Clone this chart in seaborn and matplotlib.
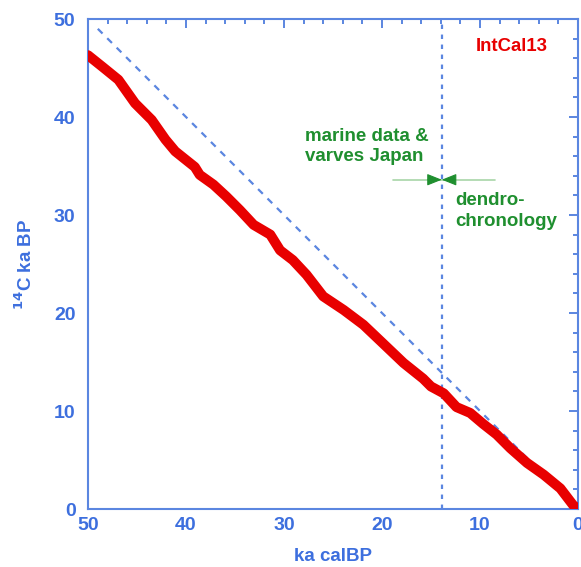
import matplotlib
matplotlib.use("Agg")
import matplotlib.pyplot as plt
import seaborn as sns
import pandas as pd
from matplotlib.ticker import MultipleLocator

# IntCal13 calibration curve (cal ka BP vs 14C ka BP)
cal_ka = [50.0, 48.5, 46.9, 45.2, 43.5, 42.1, 41.1, 39.1, 38.6, 37.2, 35.9, 34.5,
          33.1, 31.4, 30.4, 29.1, 27.7, 26.0, 23.9, 21.9, 19.9, 17.8, 15.8, 15.0,
          13.7, 12.4, 11.0, 9.7, 8.3, 6.9, 5.2, 3.5, 1.8, 0.5, 0.0]
c14_ka = [46.3, 45.1, 43.8, 41.4, 39.7, 37.7, 36.5, 34.9, 34.1, 33.1, 31.9, 30.5,
          29.0, 28.0, 26.4, 25.4, 23.9, 21.7, 20.3, 18.8, 16.9, 14.9, 13.3, 12.5,
          11.8, 10.4, 9.8, 8.7, 7.6, 6.2, 4.7, 3.5, 2.1, 0.4, 0.0]

# 1:1 reference line
ref_x = [49.0, 0.0]
ref_y = [49.0, 0.0]

# limit between dendrochronology and marine/varve records
dendro_limit = 13.9

BLUE = "#3d6fde"
SPINE = "#5b86e0"
RED = "#e80000"
GREEN = "#1f8f2f"
LIGHT_GREEN = "#a8d6a8"

sns.set_style("white")
plt.rcParams["font.family"] = ["Liberation Sans", "DejaVu Sans"]
plt.rcParams["font.weight"] = "bold"

fig = plt.figure(figsize=(5.81, 5.67), dpi=100)
ax = fig.add_axes([88 / 581, 1 - 509 / 567, 490 / 581, 490 / 567])

curve = pd.DataFrame({"cal": cal_ka, "c14": c14_ka})
ref = pd.DataFrame({"cal": ref_x, "c14": ref_y})

sns.lineplot(data=ref, x="cal", y="c14", ax=ax, color=SPINE, lw=1.6,
             linestyle=(0, (3, 3)), sort=False, zorder=2)
ax.axvline(dendro_limit, color=SPINE, lw=1.6, linestyle=(0, (2, 2.5)), zorder=2)
sns.lineplot(data=curve, x="cal", y="c14", ax=ax, color=RED, lw=7.2,
             sort=False, solid_capstyle="round", solid_joinstyle="round", zorder=3)

ax.set_xlim(50, 0)
ax.set_ylim(0, 50)

for s in ax.spines.values():
    s.set_color(SPINE)
    s.set_linewidth(1.5)
    s.set_visible(True)

ax.xaxis.set_major_locator(MultipleLocator(10))
ax.xaxis.set_minor_locator(MultipleLocator(2))
ax.yaxis.set_major_locator(MultipleLocator(10))
ax.yaxis.set_minor_locator(MultipleLocator(2))
ax.tick_params(which="both", direction="in", color=SPINE, width=1.4,
               top=True, right=True, labelcolor=BLUE, labelsize=14)
ax.tick_params(which="major", length=6.5)
ax.tick_params(which="minor", length=3.5)
ax.tick_params(axis="x", pad=6)
ax.tick_params(axis="y", pad=9)
for lab in ax.get_xticklabels() + ax.get_yticklabels():
    lab.set_fontweight("bold")

ax.set_xlabel("ka calBP", color=BLUE, fontsize=13.5, fontweight="bold", labelpad=10)
ax.set_ylabel(r"$^{\mathbf{14}}$C ka BP", color=BLUE, fontsize=13.5,
              fontweight="bold", labelpad=13)

ax.text(10.4, 47.2, "IntCal13", color=RED, fontsize=13.4, fontweight="bold",
        ha="left", va="center")
ax.text(27.9, 38.9, "marine data &\nvarves Japan", color=GREEN, fontsize=13.5,
        fontweight="bold", ha="left", va="top", linespacing=1.25)
ax.text(12.55, 32.3, "dendro-\nchronology", color=GREEN, fontsize=13.5,
        fontweight="bold", ha="left", va="top", linespacing=1.25)

ax.plot([18.9, 8.5], [33.6, 33.6], color=LIGHT_GREEN, lw=1.2, zorder=2)
for start in (15.3, 12.5):
    ax.annotate("", xy=(dendro_limit, 33.6), xytext=(start, 33.6),
                arrowprops=dict(arrowstyle="-|>,head_length=0.9,head_width=0.36",
                                color=GREEN, lw=0.8, mutation_scale=10,
                                shrinkA=0, shrinkB=0), zorder=4)

fig.savefig("out.png", dpi=100)
